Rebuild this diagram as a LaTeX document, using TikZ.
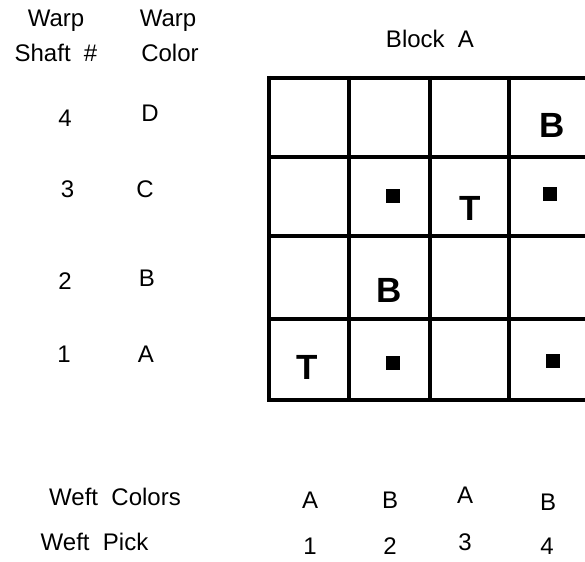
\documentclass[tikz,border=0pt]{standalone}
\usepackage{fontspec}
\setmainfont{Liberation Sans}
\begin{document}
\begin{tikzpicture}[x=1pt,y=-1pt,
  lbl/.style={inner sep=0pt,anchor=base,font=\fontsize{24}{24}\selectfont},
  cell/.style={inner sep=0pt,anchor=base,font=\fontsize{35}{35}\selectfont\bfseries},
  gridline/.style={line width=4.2pt},
  dot/.style={fill=black,minimum size=13.5pt,inner sep=0pt}]
\useasboundingbox (0,0) rectangle (585,561);
\clip (0,0) rectangle (585,561);
% grid
\foreach \x in {269,349,430,509,589} \draw[gridline] (\x,76) -- (\x,402);
\foreach \y in {78,157,236,319,400} \draw[gridline] (267,\y) -- (592,\y);
% headers
\node[lbl] (wl) at (56,27) {Warp};
\node[lbl] (sh) at (56,62) {Shaft\ \ \#};
\node[lbl] (wr) at (168,27) {Warp};
\node[lbl] (co) at (170,62) {Color};
\node[lbl] (bl) at (430,48) {Block\ \ A};
% rows
\node[lbl] (n4) at (65,127) {4};
\node[lbl] (c4) at (150,122) {D};
\node[lbl] (n3) at (67.5,197) {3};
\node[lbl] (c3) at (145,197) {C};
\node[lbl] (n2) at (65,289) {2};
\node[lbl] (c2) at (147,286) {B};
\node[lbl] (n1) at (64,362) {1};
\node[lbl] (c1) at (146,362) {A};
% cell contents
\node[cell] (b1) at (552,138) {B};
\node[dot] (s1) at (393,196) {};
\node[cell] (t1) at (470,220) {T};
\node[dot] (s2) at (550,194) {};
\node[cell] (b2) at (389,302) {B};
\node[cell] (t2) at (307,379) {T};
\node[dot] (s3) at (393,363) {};
\node[dot] (s4) at (553,361) {};
% bottom
\node[lbl] (wc) at (115,505) {Weft\ \ Colors};
\node[lbl] (wp) at (94.5,550) {Weft\ \ Pick};
\node[lbl] (a1) at (310,508) {A};
\node[lbl] (a2) at (390,508) {B};
\node[lbl] (a3) at (465,503) {A};
\node[lbl] (a4) at (548,510) {B};
\node[lbl] (p1) at (310,554) {1};
\node[lbl] (p2) at (390,554) {2};
\node[lbl] (p3) at (465,550) {3};
\node[lbl] (p4) at (547,554) {4};
\end{tikzpicture}
\end{document}
